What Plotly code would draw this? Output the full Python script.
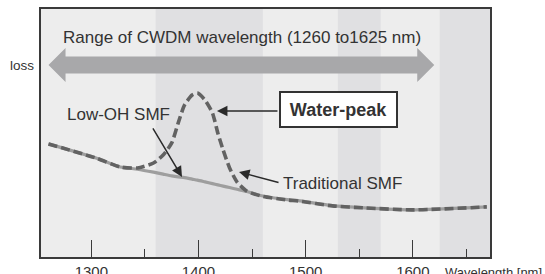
import plotly.graph_objects as go

# ---- data ----
wavelength_nm = [1260, 1305, 1327, 1343, 1358, 1367, 1375, 1381, 1387, 1394, 1399, 1406,
                 1413, 1418, 1423, 1429, 1436, 1445, 1460, 1483, 1493, 1525, 1555, 1599, 1669]
traditional_smf = [45.6, 39.8, 36.3, 35.9, 37.9, 41.1, 46.0, 54.0, 61.3, 65.3, 66.1, 63.3,
                   58.1, 50.0, 43.1, 35.9, 30.2, 26.6, 24.4, 23.0, 22.6, 20.6, 19.8, 19.0, 20.2]
low_oh_smf = [45.6, 39.8, 36.3, 35.4, 34.2, 33.4, 32.7, 32.3, 32.0, 31.4, 31.0, 30.3,
              29.6, 29.1, 28.6, 28.0, 27.3, 26.4, 24.6, 23.1, 22.7, 20.7, 19.8, 19.0, 20.2]
band_ranges = [(1360, 1460), (1530, 1570), (1625, 1680)]
cwdm_range = [1260, 1620]
major_ticks = [1300, 1400, 1500, 1600]
minor_ticks = [1350, 1450, 1550, 1650]

FONT = "Liberation Sans, Arial, sans-serif"
TXT = "#333333"
FRAME = "#3a3a3a"

fig = go.Figure()
fig.add_trace(go.Scatter(x=wavelength_nm, y=low_oh_smf, mode="lines",
                         line=dict(color="#9e9e9e", width=3.2, shape="spline", smoothing=0.6),
                         hoverinfo="skip", showlegend=False))
fig.add_trace(go.Scatter(x=wavelength_nm, y=traditional_smf, mode="lines",
                         line=dict(color="#626262", width=3.6, dash="9px,4px", shape="spline", smoothing=0.6),
                         hoverinfo="skip", showlegend=False))

shapes = []
for a, b in band_ranges:
    shapes.append(dict(type="rect", xref="x", yref="paper", x0=a, x1=b, y0=0, y1=1,
                       fillcolor="#e0e0e2", line=dict(width=0), layer="below"))

# big double-headed arrow
yc, sh, hh, hl = 77.4, 3.43, 6.85, 15.9
x0, x1 = cwdm_range
path = (f"M {x0},{yc} L {x0+hl},{yc+hh} L {x0+hl},{yc+sh} L {x1-hl},{yc+sh} L {x1-hl},{yc+hh} "
        f"L {x1},{yc} L {x1-hl},{yc-hh} L {x1-hl},{yc-sh} L {x0+hl},{yc-sh} L {x0+hl},{yc-hh} Z")
shapes.append(dict(type="path", xref="x", yref="y", path=path, fillcolor="#a8a8aa",
                   line=dict(width=0), layer="below"))

ann = []
ann.append(dict(x=1440.4, y=88.7, xref="x", yref="y", text="Range of CWDM wavelength (1260 to1625 nm)",
                showarrow=False, font=dict(family=FONT, size=17, color=TXT)))
ann.append(dict(x=-0.0423, y=0.774, xref="paper", yref="paper", text="loss", showarrow=False,
                xanchor="center", yanchor="middle", font=dict(family=FONT, size=13.5, color=TXT)))
ann.append(dict(x=1325.4, y=57.3, xref="x", yref="y", text="Low-OH SMF", showarrow=False,
                font=dict(family=FONT, size=17, color=TXT)))
ann.append(dict(x=1530.5, y=59.5, xref="x", yref="y", text="<b>Water-peak</b>", showarrow=False,
                font=dict(family=FONT, size=18, color=TXT), bgcolor="white",
                bordercolor="#333333", borderwidth=2, borderpad=1, width=113, height=31))
ann.append(dict(x=1534.3, y=29.8, xref="x", yref="y", text="Traditional SMF", showarrow=False,
                font=dict(family=FONT, size=17, color=TXT)))
ann.append(dict(x=1.008, y=-0.024, xref="paper", yref="paper", text="Wavelength [nm]", showarrow=False,
                xanchor="center", yanchor="top", font=dict(family=FONT, size=13, color=TXT)))
# pointer arrows
for tipx, tipy, ax, ay in [(1384.6, 32.3, -30, -50), (1437.8, 34.3, 41, 11), (1417.2, 58.9, 62, 0)]:
    ann.append(dict(x=tipx, y=tipy, xref="x", yref="y", ax=ax, ay=ay, text="", showarrow=True,
                    arrowhead=2, arrowsize=1.4, arrowwidth=1.5, arrowcolor="#2a2a2a"))

fig.update_layout(
    width=545, height=274, margin=dict(l=41, r=55, t=9, b=17, autoexpand=False),
    paper_bgcolor="white", plot_bgcolor="#ededed",
    shapes=shapes, annotations=ann, showlegend=False,
    xaxis=dict(range=[1253, 1672], showline=True, linewidth=2, linecolor=FRAME, mirror=True,
               automargin=False,
               ticks="inside", ticklen=17, tickwidth=1.2, tickcolor=FRAME,
               tickvals=major_ticks, ticktext=[str(v) for v in major_ticks],
               minor=dict(ticks="inside", ticklen=8, tickwidth=1.2, tickcolor=FRAME, tickvals=minor_ticks),
               showgrid=False, zeroline=False, tickfont=dict(family=FONT, size=15, color=TXT)),
    yaxis=dict(range=[0, 100], showline=True, linewidth=2, linecolor=FRAME, mirror=True,
               automargin=False,
               ticks="", showticklabels=False, showgrid=False, zeroline=False),
)
fig.write_html("out.html", config={"displayModeBar": False},
               post_script="document.body.style.margin='0';document.body.style.overflow='hidden';")
